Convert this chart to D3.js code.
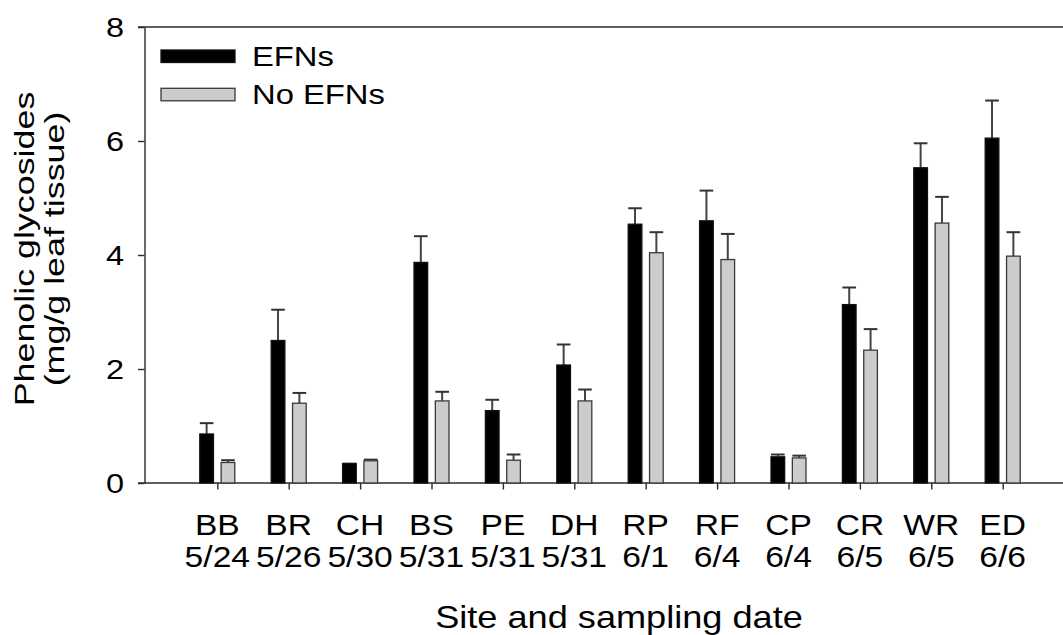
<!DOCTYPE html>
<html>
<head>
<meta charset="utf-8">
<script src="https://cdn.jsdelivr.net/npm/d3@7"></script>
<style>
body { margin: 0; background: #fff; }
svg { display: block; font-family: "Liberation Sans", Arial, sans-serif; }
</style>
</head>
<body>
<div id="container"></div>
<script>
// data
var sites = ["BB", "BR", "CH", "BS", "PE", "DH", "RP", "RF", "CP", "CR", "WR", "ED"];
var dates = ["5/24", "5/26", "5/30", "5/31", "5/31", "5/31", "6/1", "6/4", "6/4", "6/5", "6/5", "6/6"];
var groups = ["EFNs", "No EFNs"];
var efn = [0.86, 2.50, 0.34, 3.87, 1.27, 2.07, 4.54, 4.60, 0.46, 3.13, 5.53, 6.05];
var efnErr = [0.19, 0.54, 0.00, 0.46, 0.19, 0.36, 0.28, 0.53, 0.04, 0.30, 0.43, 0.66];
var noEfn = [0.36, 1.40, 0.39, 1.44, 0.40, 1.44, 4.04, 3.92, 0.44, 2.33, 4.56, 3.98];
var noEfnErr = [0.04, 0.18, 0.02, 0.16, 0.10, 0.20, 0.36, 0.45, 0.04, 0.37, 0.46, 0.42];
var yTicks = [0, 2, 4, 6, 8];

var W = 1063, H = 635;
var plotLeft = 144.5, plotTop = 27, plotBottom = 483;
var axisColor = "#2a2a2a";

var svg = d3.select("#container").append("svg")
	.attr("width", W)
	.attr("height", H);

var x = d3.scalePoint().domain(sites).range([217.3, 1002.7]);
var x1 = d3.scaleBand().domain(groups).range([-17.5, 17.5]).paddingInner(0.36);
var y = d3.scaleLinear().domain([0, 8]).range([plotBottom, plotTop]);
var fills = {"EFNs": "#000", "No EFNs": "#cccccc"};

// stretched text, the figure's font is wider than Arial
function label(g, px, py, str, size, sx, anchor, rot) {
	return g.append("text")
		.attr("transform", "translate(" + px + "," + py + ")" + (rot ? " rotate(-90)" : "") + " scale(" + sx + ",1)")
		.attr("text-anchor", anchor)
		.style("font-size", size + "px")
		.style("fill", "#000")
		.text(str);
}

// frame lines (top and bottom) running off the right edge
svg.append("line")
	.attr("x1", plotLeft - 6.5).attr("x2", W)
	.attr("y1", y(8)).attr("y2", y(8))
	.style("stroke", axisColor).style("stroke-width", 1.4);
svg.append("line")
	.attr("x1", plotLeft - 6.5).attr("x2", W)
	.attr("y1", y(0)).attr("y2", y(0))
	.style("stroke", axisColor).style("stroke-width", 1.4);

// y axis
var yAxis = svg.append("g")
	.attr("transform", "translate(" + plotLeft + ",0)")
	.call(d3.axisLeft(y).tickValues(yTicks).tickSize(6.5).tickSizeOuter(0).tickFormat(""));
yAxis.selectAll("path, line").style("stroke", axisColor).style("stroke-width", 1.4);
yTicks.forEach(function(t) {
	label(svg, 124, y(t) + 9.5, String(t), 28, 1.16, "end");
});

// x axis ticks
var xAxis = svg.append("g")
	.attr("transform", "translate(0," + plotBottom + ")")
	.call(d3.axisBottom(x).tickSize(6.5).tickSizeOuter(0).tickFormat(""));
xAxis.select(".domain").remove();
xAxis.selectAll("line").style("stroke", axisColor).style("stroke-width", 1.4);
sites.forEach(function(s, i) {
	label(svg, x(s), 535, s, 30, 1.12, "middle");
	label(svg, x(s), 567, dates[i], 30, 1.12, "middle");
});

// bars
var rows = sites.map(function(s, i) {
	return {site: s, vals: [
		{g: "EFNs", v: efn[i], e: efnErr[i]},
		{g: "No EFNs", v: noEfn[i], e: noEfnErr[i]}
	]};
});

var cat = svg.selectAll(".cat").data(rows).enter()
	.append("g")
	.attr("class", "cat")
	.attr("transform", function(d) { return "translate(" + x(d.site) + ",0)"; });

var bar = cat.selectAll(".bar").data(function(d) { return d.vals; }).enter()
	.append("g").attr("class", "bar");

// error bars first so the bar outline sits on top
bar.append("line")
	.attr("x1", function(d) { return x1(d.g) + x1.bandwidth() / 2; })
	.attr("x2", function(d) { return x1(d.g) + x1.bandwidth() / 2; })
	.attr("y1", function(d) { return y(d.v); })
	.attr("y2", function(d) { return y(d.v + d.e); })
	.style("stroke", "#444").style("stroke-width", 2);
bar.append("line")
	.attr("x1", function(d) { return x1(d.g); })
	.attr("x2", function(d) { return x1(d.g) + x1.bandwidth(); })
	.attr("y1", function(d) { return y(d.v + d.e); })
	.attr("y2", function(d) { return y(d.v + d.e); })
	.style("stroke", "#333").style("stroke-width", 2);

bar.append("rect")
	.attr("x", function(d) { return x1(d.g); })
	.attr("width", x1.bandwidth())
	.attr("y", function(d) { return y(d.v); })
	.attr("height", function(d) { return y(0) - y(d.v); })
	.style("fill", function(d) { return fills[d.g]; })
	.style("stroke", function(d) { return d.g == "EFNs" ? "#111" : "#3a3a3a"; })
	.style("stroke-width", 1.3);

// legend
groups.forEach(function(gname, i) {
	svg.append("rect")
		.attr("x", 161).attr("y", 50 + i * 38.3)
		.attr("width", 74).attr("height", 12.5)
		.style("fill", fills[gname])
		.style("stroke", gname == "EFNs" ? "#111" : "#3a3a3a")
		.style("stroke-width", 1.3);
	label(svg, 252, 66 + i * 38.3, gname, 28, 1.17, "start");
});

// axis titles
label(svg, 619, 628, "Site and sampling date", 32, 1.13, "middle");
label(svg, 34, 249, "Phenolic glycosides", 28, 1.28, "middle", true);
label(svg, 64, 249, "(mg/g leaf tissue)", 28, 1.28, "middle", true);
</script>
</body>
</html>
